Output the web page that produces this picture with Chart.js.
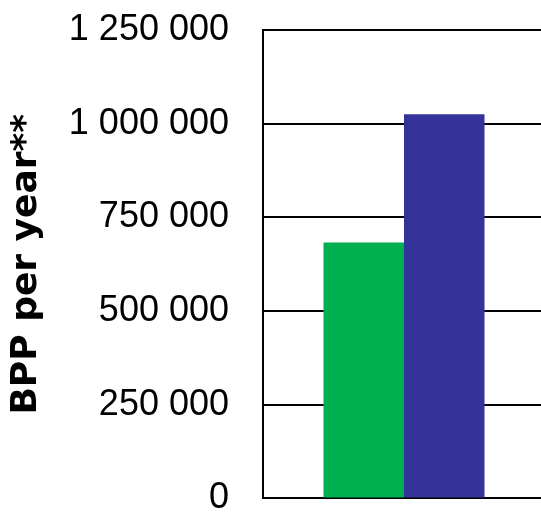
<!DOCTYPE html>
<html>
<head>
<meta charset="utf-8">
<script src="https://cdn.jsdelivr.net/npm/chart.js@4/dist/chart.umd.min.js"></script>
<style>
    html, body { margin: 0; padding: 0; overflow: hidden; background: #fff; }
    #wrap { position: absolute; left: 0; top: 0; width: 545px; height: 520px; }
</style>
</head>
<body>
<div id="wrap"><canvas id="chart" width="545" height="520"></canvas></div>
<script>
// chart data
var categories = [''];
var seriesNames = ['Series 1', 'Series 2'];
var series1 = [683000];
var series2 = [1025000];
var yTicks = [0, 250000, 500000, 750000, 1000000, 1250000];
var yTitle = 'BPP per year**';

// format 1250000 -> "1 250 000"
function spaced(v) {
    return String(v).replace(/\B(?=(\d{3})+(?!\d))/g, ' ');
}

var ctx = document.getElementById('chart').getContext('2d');
window.myChart = new Chart(ctx, {
    type: 'bar',
    data: {
        labels: categories,
        datasets: [{
            label: seriesNames[0],
            data: series1,
            backgroundColor: '#00B050',
            borderWidth: 0
        }, {
            label: seriesNames[1],
            data: series2,
            backgroundColor: '#333399',
            borderWidth: 0
        }]
    },
    options: {
        responsive: false,
        animation: false,
        events: [],
        categoryPercentage: 0.571,
        barPercentage: 1,
        layout: {
            padding: { left: 0, right: 0, top: 30, bottom: 21 }
        },
        plugins: {
            legend: { display: false },
            tooltip: { enabled: false }
        },
        scales: {
            x: {
                display: false
            },
            y: {
                min: yTicks[0],
                max: yTicks[yTicks.length - 1],
                afterFit: function (scale) {
                    scale.width = 263;
                },
                ticks: {
                    stepSize: yTicks[1] - yTicks[0],
                    padding: 0,
                    color: '#000',
                    font: { family: 'Liberation Sans, Arial, sans-serif', size: 36 },
                    callback: function (value) {
                        return spaced(value);
                    }
                },
                grid: {
                    color: '#000',
                    lineWidth: 2,
                    drawTicks: true,
                    tickLength: 34,
                    tickColor: 'rgba(0,0,0,0)'
                },
                border: {
                    color: '#000',
                    width: 2
                },
                title: {
                    display: true,
                    text: yTitle,
                    color: '#000',
                    padding: { top: 5, bottom: 0 },
                    font: { family: 'DejaVu Sans, sans-serif', size: 36, weight: 'bold' }
                }
            }
        }
    }
});
</script>
</body>
</html>
